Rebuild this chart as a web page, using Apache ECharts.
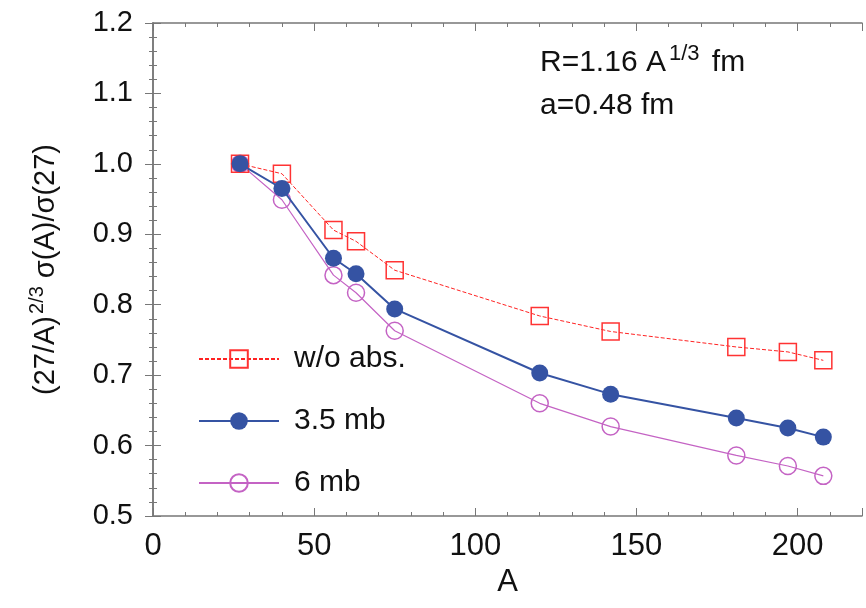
<!DOCTYPE html>
<html>
<head>
<meta charset="utf-8">
<script src="https://cdn.jsdelivr.net/npm/echarts@6/dist/echarts.min.js"></script>
<style>
  html, body { margin: 0; padding: 0; background: #fff; }
  #chart { width: 866px; height: 608px; }
</style>
</head>
<body>
<div id="chart"></div>
<script>
// mass numbers A
var massA = [27, 40, 56, 63, 75, 120, 142, 181, 197, 208];
// normalized ratio (27/A)^2/3 sigma(A)/sigma(27)
var noAbs = [1.0, 0.986, 0.906, 0.890, 0.849, 0.784, 0.762, 0.740, 0.733, 0.721];
var mb35 = [1.0, 0.965, 0.866, 0.844, 0.794, 0.703, 0.673, 0.639, 0.625, 0.612];
var mb6 = [1.0, 0.949, 0.842, 0.817, 0.763, 0.660, 0.627, 0.586, 0.571, 0.557];
var seriesNames = ["w/o abs.", "3.5 mb", "6 mb"];

function pairs(ys) {
  return massA.map(function (a, i) { return [a, ys[i]]; });
}

var font = "Liberation Sans, Arial, Helvetica, sans-serif";
var axisGray = "#777";

//坐标轴公共样式
var frameAxis = {
  axisLine: { show: true, lineStyle: { color: axisGray, width: 1.5 } },
  axisTick: { show: true, inside: true, length: 8, lineStyle: { color: axisGray } },
  minorTick: { show: true, splitNumber: 5, length: 4, lineStyle: { color: axisGray } },
  splitLine: { show: false }
};

var chart = echarts.init(document.getElementById("chart"));
chart.setOption({
  animation: false,
  textStyle: { fontFamily: font },
  grid: { left: 153, right: 4, top: 23, bottom: 92 },
  legend: {
    orient: "vertical",
    left: 193,
    top: 339,
    itemWidth: 80,
    itemHeight: 22,
    itemGap: 32,
    textStyle: { fontSize: 30, color: "#111", fontFamily: font, padding: [0, 0, 0, 10] },
    data: seriesNames
  },
  graphic: [
    {
      type: "text",
      left: 540,
      top: 43,
      style: {
        text: "R=1.16 A{sup|1/3}{gap| }fm",
        font: "30px " + font,
        fill: "#111",
        rich: {
          sup: { fontSize: 22, padding: [0, 0, 18, 3], fontFamily: font, fill: "#111" },
          gap: { fontSize: 30, padding: [0, 4, 0, 0], fontFamily: font }
        }
      }
    },
    {
      type: "text",
      left: 540,
      top: 91,
      style: { text: "a=0.48 fm", font: "30px " + font, fill: "#111" }
    }
  ],
  xAxis: [
    Object.assign({
      type: "value",
      min: 0,
      max: 220,
      interval: 50,
      name: "A",
      nameLocation: "middle",
      nameGap: 46,
      nameTextStyle: { fontSize: 31, color: "#111", fontFamily: font },
      axisLabel: {
        fontSize: 31, color: "#111", margin: 15, fontFamily: font,
        showMaxLabel: false
      }
    }, frameAxis),
    Object.assign({
      type: "value",
      position: "top",
      min: 0,
      max: 220,
      interval: 50,
      axisLabel: { show: false }
    }, frameAxis)
  ],
  yAxis: [
    Object.assign({
      type: "value",
      min: 0.5,
      max: 1.2,
      interval: 0.1,
      name: "(27/A){sup|2/3} σ(A)/σ(27)",
      nameLocation: "middle",
      nameGap: 88,
      nameRotate: 90,
      nameTextStyle: {
        fontSize: 29, color: "#111", fontFamily: font,
        rich: {
          sup: { fontSize: 20, padding: [0, 0, 18, 2], color: "#111", fontFamily: font }
        }
      },
      axisLabel: {
        fontSize: 29, color: "#111", margin: 20, fontFamily: font,
        formatter: function (v) { return v.toFixed(1); }
      }
    }, frameAxis),
    Object.assign({
      type: "value",
      position: "right",
      min: 0.5,
      max: 1.2,
      interval: 0.1,
      axisLabel: { show: false }
    }, frameAxis)
  ],
  series: [
    {
      name: seriesNames[0],
      type: "line",
      data: pairs(noAbs),
      symbol: "rect",
      symbolSize: 17,
      lineStyle: { color: "#f22", width: 1, type: [4, 2] },
      itemStyle: { color: "rgba(255,255,255,0)", borderColor: "#f33", borderWidth: 1.5 },
      z: 3
    },
    {
      name: seriesNames[1],
      type: "line",
      data: pairs(mb35),
      symbol: "circle",
      symbolSize: 17,
      lineStyle: { color: "#3553a3", width: 2 },
      itemStyle: { color: "#3553a3", borderWidth: 0 },
      z: 4
    },
    {
      name: seriesNames[2],
      type: "line",
      data: pairs(mb6),
      symbol: "circle",
      symbolSize: 17,
      lineStyle: { color: "#c463c4", width: 1.2 },
      itemStyle: { color: "rgba(255,255,255,0)", borderColor: "#c463c4", borderWidth: 1.5 },
      z: 2
    }
  ]
});
</script>
</body>
</html>
